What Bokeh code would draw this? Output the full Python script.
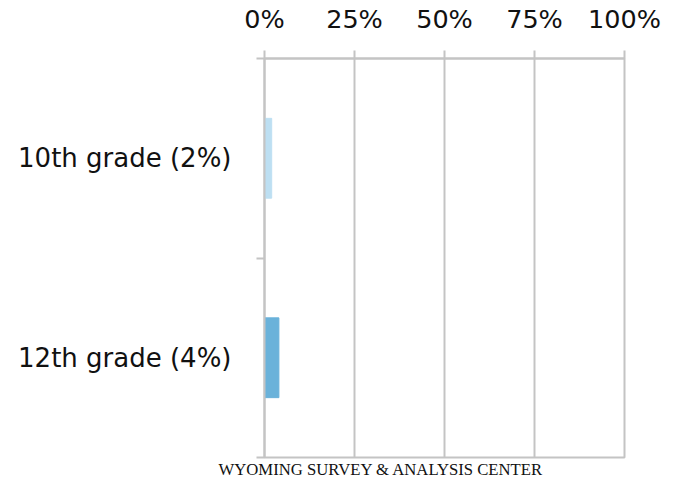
from bokeh.plotting import figure
from bokeh.models import FixedTicker, Range1d, Title, ColumnDataSource
from bokeh.embed import file_html
from bokeh.resources import INLINE

categories = ["10th grade (2%)", "12th grade (4%)"]
values = [2, 4]
bar_colors = ["#bddff2", "#6ab2da"]
x_ticks = [0, 25, 50, 75, 100]
x_tick_labels = ["0%", "25%", "50%", "75%", "100%"]
footer = "WYOMING SURVEY & ANALYSIS CENTER"

n = len(categories)
ypos = [n - i - 0.5 for i in range(n)]
src = ColumnDataSource(dict(y=ypos, v=values, c=bar_colors, name=categories))

GRAY = "#c4c4c4"
FONT = "DejaVu Sans"

p = figure(frame_width=360, frame_height=399, output_backend="svg", toolbar_location=None,
           x_range=Range1d(0, 100), y_range=Range1d(0, n),
           x_axis_location="above",
           min_border_left=264, min_border_right=48, min_border_top=58, min_border_bottom=10)

p.hbar(y="y", right="v", left=0, height=0.4, color="c", source=src)

p.xaxis.ticker = FixedTicker(ticks=x_ticks)
p.xaxis.major_label_overrides = {t: l for t, l in zip(x_ticks, x_tick_labels)}
p.xaxis.major_label_text_font = FONT
p.xaxis.major_label_text_font_size = "25.5px"
p.xaxis.major_label_text_color = "#111111"
p.xaxis.major_tick_out = 8
p.xaxis.major_tick_in = 0
p.xaxis.minor_tick_line_color = None
p.xaxis.major_tick_line_color = GRAY
p.xaxis.major_tick_line_width = 2
p.xaxis.axis_line_color = GRAY
p.xaxis.axis_line_width = 2
p.xaxis.major_label_standoff = 17

p.yaxis.ticker = FixedTicker(ticks=ypos, minor_ticks=list(range(n + 1)))
p.yaxis.major_label_overrides = {y: c for y, c in zip(ypos, categories)}
p.yaxis.major_label_text_font = FONT
p.yaxis.major_label_text_font_size = "26px"
p.yaxis.major_label_text_color = "#111111"
p.yaxis.major_tick_line_color = None
p.yaxis.minor_tick_line_color = GRAY
p.yaxis.minor_tick_line_width = 2
p.yaxis.minor_tick_out = 8
p.yaxis.minor_tick_in = 0
p.yaxis.axis_line_color = GRAY
p.yaxis.axis_line_width = 2
p.yaxis.major_label_standoff = 25

p.xgrid.grid_line_color = GRAY
p.xgrid.grid_line_width = 2
p.ygrid.grid_line_color = None
p.outline_line_color = GRAY
p.outline_line_width = 2
p.outline_line_alpha = 1

t = Title(text=footer, align="left", offset=-46, standoff=0, text_font="Liberation Serif",
          text_font_size="16.7px", text_font_style="normal", text_color="#111111")
p.add_layout(t, "below")

open("out.html", "w").write(file_html(p, INLINE))
